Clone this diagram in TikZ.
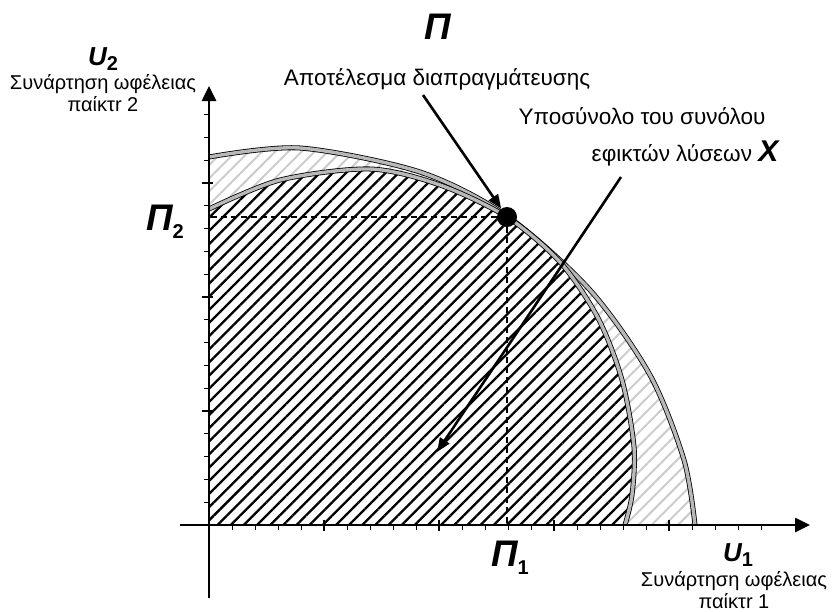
\documentclass[tikz,border=0pt]{standalone}
\usepackage{fontspec}
\setmainfont{Liberation Sans}
\usetikzlibrary{positioning, arrows.meta, patterns.meta}

% δείκτες κάτω από τα σύμβολα
\newcommand{\sbs}[1]{\raisebox{-0.22em}{\fontsize{20}{20}\selectfont\upshape #1}}

\begin{document}
\begin{tikzpicture}[x=1pt, y=-1pt,
    axis/.style={line width=2.6pt, -{Triangle[length=15pt, width=14pt]}},
    tickm/.style={line width=0.8pt},
    tickM/.style={line width=2.6pt},
    frontier/.style={line width=0.8pt, double=black!28, double distance=3.4pt},
    guide/.style={dash pattern=on 6pt off 4pt, line width=1.2pt},
    pointer/.style={line width=2.6pt, -{Triangle[length=14pt, width=11pt]}},
    lbl/.style={font=\fontsize{22.5}{27}\selectfont, inner sep=0pt},
    axlbl/.style={font=\fontsize{20}{22}\selectfont, inner sep=0pt, align=center},
    sym/.style={font=\fontsize{37}{40}\selectfont\bfseries\itshape, inner sep=0pt},
    usym/.style={font=\fontsize{26}{30}\selectfont\bfseries\itshape, inner sep=0pt},
    resdot/.style={circle, fill=black, inner sep=0pt, minimum size=20pt},
    lightfill/.style={pattern={Lines[angle=45, distance=9.3pt, line width=2pt]}, pattern color=black!20},
    darkfill/.style={pattern={Lines[angle=45, distance=9.3pt, line width=2.3pt]}, pattern color=black}
  ]
  \useasboundingbox (0,0) rectangle (832,611);

  % Περιοχές (γραμμοσκίαση)
  \fill[lightfill] (209,525) -- plot[smooth] coordinates {(209,157) (300,148) (420,172) (507,216) (590,290) (650,375) (684,460) (695,525)} -- cycle;
  \fill[white] (209,525) -- plot[smooth] coordinates {(209,209) (280,180) (370,169) (440,185) (507,217) (560,262) (598,318) (622,380) (634,447) (632,495) (625,525)} -- cycle;
  \fill[darkfill] (209,525) -- plot[smooth] coordinates {(209,209) (280,180) (370,169) (440,185) (507,217) (560,262) (598,318) (622,380) (634,447) (632,495) (625,525)} -- cycle;

  % Σύνορα
  \draw[frontier] plot[smooth] coordinates {(209,157) (300,148) (420,172) (507,216) (590,290) (650,375) (684,460) (695,525)};
  \draw[frontier] plot[smooth] coordinates {(209,209) (280,180) (370,169) (440,185) (507,217) (560,262) (598,318) (622,380) (634,447) (632,495) (625,525)};

  % Άξονες
  \coordinate (O) at (209,525);
  \coordinate (xs) at (180,525);
  \coordinate (xe) at (810,525);
  \coordinate (ys) at (209,598);
  \coordinate (ye) at (209,86);
  \foreach \k in {1,...,18} \draw[tickm] (209,{525-22.8*\k}) -- ++(-5,0);
  \foreach \k in {5,10,15} \draw[tickM] (202,{525-22.8*\k}) -- ++(11,0);
  \foreach \k in {1,...,24} \draw[tickm] ({209+23*\k},525) -- ++(0,5);
  \foreach \k in {5,10,15,20} \draw[tickM] ({209+23*\k},520) -- ++(0,11);
  \draw[axis] (xs) -- (xe);
  \draw[axis] (ys) -- (ye);

  % Σημείο αποτελέσματος
  \node[resdot] (res) at (507,217) {};
  \draw[guide] (res) -- (res -| O);
  \draw[guide] (res) -- (res |- O);

  % Ετικέτες
  \node[sym, anchor=base] (pi) at (438,39) {Π};
  \node[lbl, anchor=base] (lres) at (437,85) {Αποτέλεσμα διαπραγμάτευσης};
  \node[lbl, anchor=base] (lsub) at (642,124) {Υποσύνολο του συνόλου};
  \node[lbl, anchor=base] (lsubx) at (685,161) {εφικτών λύσεων {\fontsize{30}{30}\selectfont\bfseries\itshape X}};
  \node[sym, anchor=base] (pi2) at (165,230) {Π\sbs{2}};
  \node[sym, anchor=base] (pi1) at (510,566) {Π\sbs{1}};
  \node[usym, anchor=base] (u2) at (103,65) {U\sbs{2}};
  \node[axlbl, anchor=north] (u2txt) at (103,74) {Συνάρτηση ωφέλειας\\παίκτr 2};
  \node[usym, anchor=base] (u1) at (738,561) {U\sbs{1}};
  \node[axlbl, anchor=north] (u1txt) at (734,571) {Συνάρτηση ωφέλειας\\παίκτr 1};

  % Βέλη
  \coordinate (r0) at (423,95);
  \coordinate (s0) at (621,177);
  \coordinate (s1) at (437,452);
  \draw[pointer] (r0) -- (res);
  \draw[pointer] (s0) -- (s1);
\end{tikzpicture}
\end{document}
